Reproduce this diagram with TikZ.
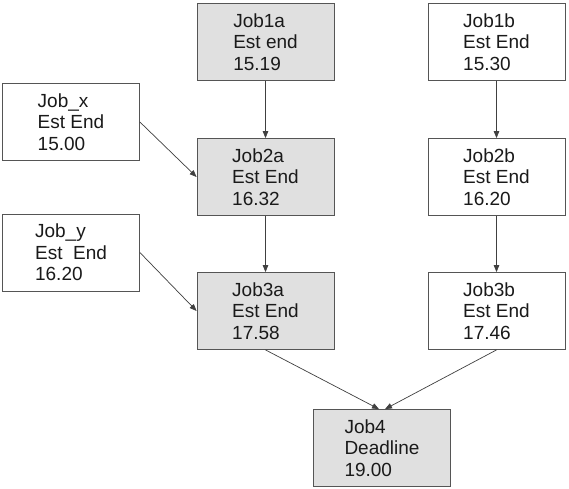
\documentclass[tikz,border=0pt]{standalone}
\usepackage{fontspec}
\setmainfont{Liberation Sans}
\usepackage{xcolor}
\usepackage{tikz}
\usetikzlibrary{arrows.meta}
\definecolor{bg}{HTML}{FFFFFF}
\definecolor{jobfill}{HTML}{E0E0E0}
\definecolor{frame}{HTML}{555555}
\definecolor{text}{HTML}{1A1A1A}
\definecolor{wire}{HTML}{404040}
\tikzset{
  job/.style={draw=frame, fill=bg, line width=0.8pt, minimum width=137pt, minimum height=77pt,
    align=left, text=text, font=\fontsize{19}{21.5}\selectfont, inner sep=0pt},
  jobg/.style={job, fill=jobfill},
  link/.style={draw=wire, line width=0.7pt, -{Triangle[length=7pt,width=5.5pt]}},
}

\begin{document}
\begin{tikzpicture}[x=1pt,y=-1pt]
  \useasboundingbox[fill=bg] (0,0) rectangle (569,488);
  \node[jobg] (J1a) at (265.5,42) {Job1a\\Est end\\15.19};
  \node[job] (J1b) at (496.5,42) {Job1b\\Est End\\15.30};
  \node[job] (Jx) at (71,122) {Job\_x\\Est End\\15.00};
  \node[jobg] (J2a) at (265.5,177) {Job2a\\Est End\\16.32};
  \node[job] (J2b) at (496.5,177) {Job2b\\Est End\\16.20};
  \node[job] (Jy) at (71,252.5) {Job\_y\\Est~\ End\\16.20};
  \node[jobg] (J3a) at (265.5,311) {Job3a\\Est End\\17.58};
  \node[job] (J3b) at (496.5,311) {Job3b\\Est End\\17.46};
  \node[jobg] (J4) at (382,448) {Job4\\Deadline\\19.00};
  \draw[link] (J1a) -- (J2a);
  \draw[link] (J2a) -- (J3a);
  \draw[link] (J1b) -- (J2b);
  \draw[link] (J2b) -- (J3b);
  \draw[link] (Jx.east) -- (J2a.west);
  \draw[link] (Jy.east) -- (J3a.west);
  \draw[link] (J3a.south) -- ([xshift=-3pt]J4.north);
  \draw[link] (J3b.south) -- ([xshift=3pt]J4.north);
\end{tikzpicture}
\end{document}
